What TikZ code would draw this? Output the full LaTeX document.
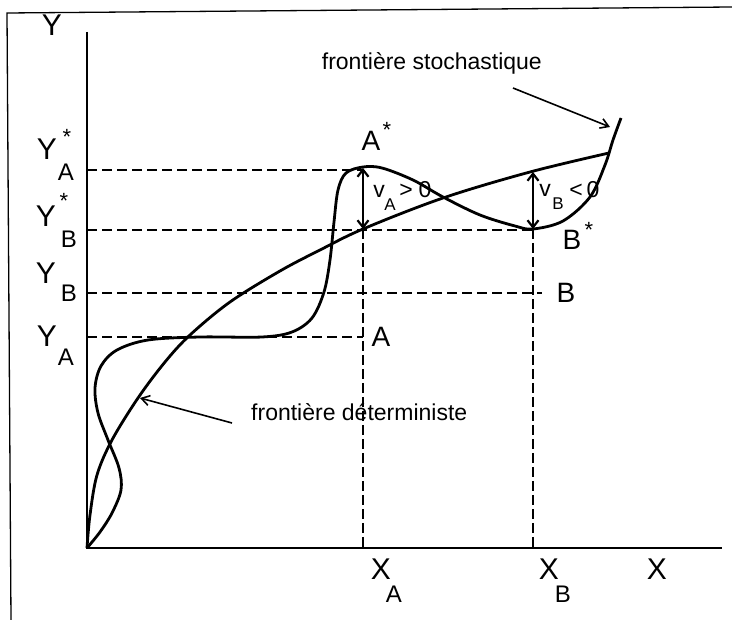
\documentclass[tikz,border=0pt]{standalone}
\usepackage{fontspec}
\setmainfont{Liberation Sans}
\usetikzlibrary{arrows.meta}
\begin{document}
\begin{tikzpicture}[x=1pt,y=-1pt,
  big/.style={inner sep=0pt,font=\fontsize{30}{30}\selectfont},
  mid/.style={inner sep=0pt,font=\fontsize{28}{28}\selectfont},
  sub/.style={inner sep=0pt,font=\fontsize{24}{24}\selectfont},
  star/.style={inner sep=0pt,font=\fontsize{22}{22}\selectfont},
  lab/.style={inner sep=0pt,font=\fontsize{23}{23}\selectfont},
  vsub/.style={inner sep=0pt,font=\fontsize{17}{17}\selectfont},
  axis/.style={line width=2.6pt},
  curve/.style={line width=2.8pt,line join=round},
  hdash/.style={line width=1.4pt,dash pattern=on 10pt off 5pt},
  vdash/.style={line width=1.2pt,dash pattern=on 10pt off 4pt},
  dbl/.style={line width=2.2pt,{Straight Barb[length=7pt,width=11pt]}-{Straight Barb[length=7pt,width=11pt]}},
  pointer/.style={line width=1.6pt,-{Straight Barb[length=8pt,width=10pt]}}]
\useasboundingbox (0,0) rectangle (732,620);
% frame
\draw[line width=1.3pt] (11,620) -- (7,13) -- (732,7);
% coordinates
\coordinate (O) at (87,548);
\coordinate (Ytop) at (87,32);
\coordinate (Xend) at (722,548);
\coordinate (YAs) at (87,170);
\coordinate (YBs) at (87,230);
\coordinate (YB) at (87,293);
\coordinate (YA) at (87,337);
\coordinate (Astar) at (363,168);
\coordinate (Adet) at (363,229);
\coordinate (Bdet) at (533,172);
\coordinate (Bstar) at (533,229);
\coordinate (XA) at (363,548);
\coordinate (XB) at (533,548);
\coordinate (YAend) at (363,170);
\coordinate (YBsend) at (533,230);
\coordinate (YBend) at (542,293);
\coordinate (YAend2) at (363,337);
% dashed guides
\draw[hdash] (YAs) -- (YAend);
\draw[hdash] (YBs) -- (YBsend);
\draw[hdash] (YB) -- (YBend);
\draw[hdash] (YA) -- (YAend2);
\draw[vdash] (Adet) -- (XA);
\draw[vdash] (Bstar) -- (XB);
% axes
\draw[axis] (Ytop) -- (O) -- (Xend);
% deterministic frontier
\draw[curve] plot[smooth,tension=0.55] coordinates {(87,548) (90,515) (97,475) (112,440) (138,398) (165,362) (190,335) (230,302) (280,271) (320,250) (363,229) (443,198) (530,172) (609,153)};
% stochastic frontier
\draw[curve] plot[smooth,tension=0.55] coordinates {(87,548) (100,532) (112,513) (121,490) (119,468) (108,440) (98,413) (95,388) (101,366) (117,350) (148,340) (200,337) (262,337) (292,332) (312,318) (324,292) (330,260) (334,222) (338,190) (346,173) (363,167) (382,168) (413,180) (443,197) (480,215) (515,226) (533,229) (563,221) (590,197) (605,165) (613,140) (621,118)};
% double arrows
\draw[dbl] (Astar) -- (Adet);
\draw[dbl] (Bdet) -- (Bstar);
% pointers
\node[lab,anchor=base east] (tsto) at (542,70) {frontière stochastique};
\coordinate (stoTail) at (513,88);
\coordinate (stoTip) at (610,127);
\draw[pointer] (stoTail) -- (stoTip);
\node[lab,anchor=base west] (tdet) at (251,421) {frontière déterministe};
\coordinate (detTail) at (232,423);
\coordinate (detTip) at (140,398);
\draw[pointer] (detTail) -- (detTip);
% axis labels
\node[big] (lY) at (52,25) {Y};
\node[big] (lX) at (657,569) {X};
\node[big] (lXA) at (381,569) {X};
\node[sub] (lXAs) at (394,594) {A};
\node[big] (lXB) at (549,569) {X};
\node[sub] (lXBs) at (563,594) {B};
% Y tick labels
\node[big] (lYAs) at (47,149) {Y};
\node[star] (lYAss) at (67,137) {*};
\node[sub] (lYAsb) at (66,172) {A};
\node[big] (lYBs) at (46,216) {Y};
\node[star] (lYBss) at (64,201) {*};
\node[sub] (lYBsb) at (69,239) {B};
\node[big] (lYB) at (46,273) {Y};
\node[sub] (lYBb) at (69,293) {B};
\node[big] (lYA) at (47,336) {Y};
\node[sub] (lYAb) at (66,357) {A};
% point labels
\node[mid] (lAstar) at (371,141) {A};
\node[star] (lAstars) at (387,130) {*};
\node[mid] (lBstar) at (572,240) {B};
\node[star] (lBstars) at (589,230) {*};
\node[mid] (lA) at (381,337) {A};
\node[mid] (lB) at (566,293) {B};
% v labels
\node[lab] (vA) at (379,191) {v};
\node[vsub] (vAs) at (390,205) {A};
\node[lab] (vAg) at (406,191) {>};
\node[lab] (vA0) at (425,190) {0};
\node[lab] (vB) at (545,190) {v};
\node[vsub] (vBs) at (558,204) {B};
\node[lab] (vBl) at (576,191) {<};
\node[lab] (vB0) at (593,190) {0};
\end{tikzpicture}
\end{document}
